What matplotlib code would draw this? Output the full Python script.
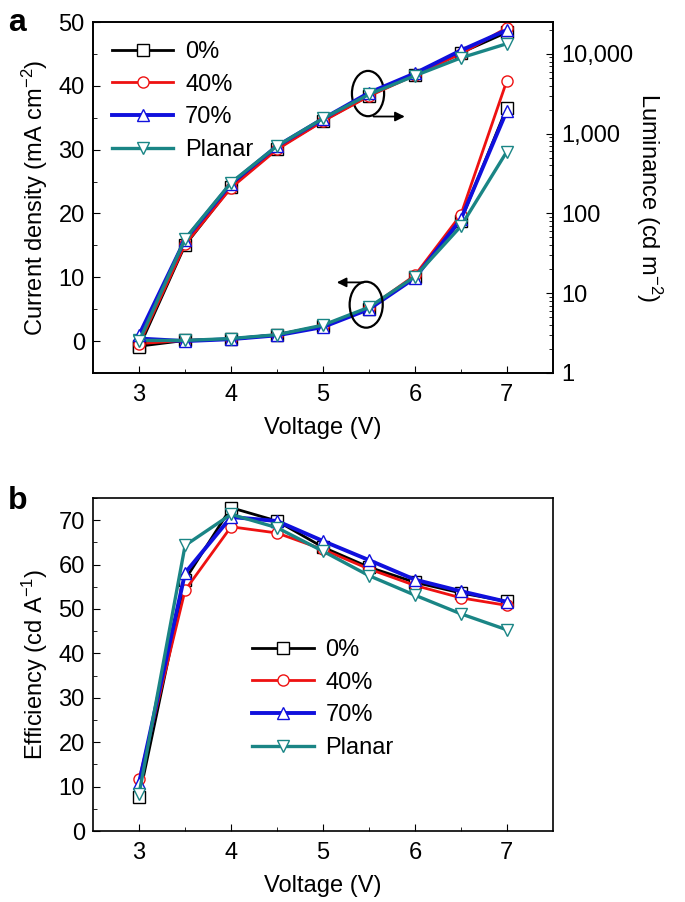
import numpy as np
import matplotlib
matplotlib.use("Agg")
import matplotlib.pyplot as plt
from matplotlib.patches import Ellipse
from matplotlib.ticker import FixedLocator, MultipleLocator, FuncFormatter, LogLocator

plt.rcParams['font.family'] = ['Liberation Sans', 'DejaVu Sans']
plt.rcParams['mathtext.fontset'] = 'custom'
plt.rcParams['mathtext.rm'] = 'Liberation Sans'
plt.rcParams['mathtext.it'] = 'Liberation Sans:italic'

voltage = [3.0, 3.5, 4.0, 4.5, 5.0, 5.5, 6.0, 6.5, 7.0]
labels = ["0%", "40%", "70%", "Planar"]
colors = ["#000000", "#ee1111", "#1010dd", "#1a8585"]
markers = ["s", "o", "^", "v"]
widths = [2.0, 2.0, 2.8, 2.4]

# current density (mA cm-2)
cur_0 = [-0.8, 0.1, 0.3, 1.0, 2.4, 5.1, 10.1, 18.9, 36.6]
cur_40 = [-0.4, 0.1, 0.3, 1.0, 2.4, 5.2, 10.3, 19.8, 40.8]
cur_70 = [0.4, 0.0, 0.3, 0.9, 2.2, 5.0, 9.9, 19.1, 36.1]
cur_pl = [0.1, 0.1, 0.4, 1.0, 2.5, 5.3, 10.1, 18.0, 29.7]

# luminance (cd m-2)
lum_0 = [2.1, 40, 215, 650, 1450, 3000, 5500, 10300, 18600]
lum_40 = [2.3, 41, 209, 633, 1433, 2950, 5400, 10000, 21200]
lum_70 = [3.0, 47, 236, 697, 1535, 3250, 5700, 11040, 19900]
lum_pl = [2.5, 48, 243, 700, 1550, 3100, 5320, 8900, 13400]

# efficiency (cd A-1)
eff_0 = [7.6, 56.6, 72.8, 69.8, 63.9, 59.4, 56.0, 53.6, 51.7]
eff_40 = [11.6, 54.2, 68.5, 67.1, 63.4, 59.0, 55.3, 52.5, 50.8]
eff_70 = [10.9, 58.1, 70.7, 69.8, 65.3, 61.0, 56.6, 54.0, 51.6]
eff_pl = [8.4, 64.3, 71.3, 68.3, 63.0, 57.5, 53.1, 48.9, 45.3]

cur = [cur_0, cur_40, cur_70, cur_pl]
lum = [lum_0, lum_40, lum_70, lum_pl]
eff = [eff_0, eff_40, eff_70, eff_pl]

fs = 17
fig = plt.figure(figsize=(6.85, 9.02), dpi=100)


def style_x(ax):
    ax.set_xlim(2.5, 7.5)
    ax.xaxis.set_major_locator(FixedLocator([3, 4, 5, 6, 7]))
    ax.xaxis.set_minor_locator(FixedLocator([3.5, 4.5, 5.5, 6.5]))
    ax.tick_params(axis="x", which="both", direction="in", top=False, labelsize=fs, pad=8)
    ax.tick_params(axis="x", which="major", length=5)
    ax.tick_params(axis="x", which="minor", length=3)
    ax.set_xlabel("Voltage (V)", fontsize=fs, labelpad=8)


# --- panel a ---
ax1 = fig.add_axes([0.136, 0.5865, 0.671, 0.389])
ax2 = ax1.twinx()
for i in range(4):
    ax1.plot(voltage, cur[i], color=colors[i], lw=widths[i], marker=markers[i],
             ms=8, mfc="white", mec=colors[i], mew=1.0, label=labels[i])
    ax2.plot(voltage, lum[i], color=colors[i], lw=widths[i], marker=markers[i],
             ms=8, mfc="white", mec=colors[i], mew=1.0)
ax1.set_ylim(-5, 50)
ax1.yaxis.set_major_locator(MultipleLocator(10))
ax1.yaxis.set_minor_locator(MultipleLocator(5))
ax1.tick_params(axis="y", which="both", direction="in", labelsize=fs, pad=6)
ax1.tick_params(axis="y", which="major", length=5)
ax1.tick_params(axis="y", which="minor", length=3)
ax1.set_ylabel("Current density (mA cm$^{-2}$)", fontsize=fs, labelpad=6)
style_x(ax1)

ax2.set_yscale("log")
ax2.set_ylim(1, 25000)
ax2.yaxis.set_major_locator(LogLocator(base=10, numticks=10))
ax2.yaxis.set_minor_locator(LogLocator(base=10, subs=np.arange(2, 10), numticks=10))
ax2.yaxis.set_major_formatter(FuncFormatter(lambda v, p: f"{int(round(v)):,}"))
ax2.tick_params(axis="y", which="both", direction="in", labelsize=fs, pad=6)
ax2.tick_params(axis="y", which="major", length=5)
ax2.tick_params(axis="y", which="minor", length=3)
ax2.set_ylabel("Luminance (cd m$^{-2}$)", fontsize=fs, rotation=-90, labelpad=22)

ax2.add_patch(Ellipse((5.49, 38.8), 0.35, 7.1, transform=ax1.transData,
                      fill=False, ec="black", lw=1.6))
ax2.annotate("", xy=(5.92, 35.2), xytext=(5.52, 35.2), xycoords=ax1.transData,
             textcoords=ax1.transData,
             arrowprops=dict(arrowstyle="-|>", color="black", lw=1.3, mutation_scale=14))
ax2.add_patch(Ellipse((5.47, 5.7), 0.36, 7.2, transform=ax1.transData,
                      fill=False, ec="black", lw=1.6))
ax2.annotate("", xy=(5.12, 9.2), xytext=(5.47, 9.2), xycoords=ax1.transData,
             textcoords=ax1.transData,
             arrowprops=dict(arrowstyle="-|>", color="black", lw=1.3, mutation_scale=14))

ax1.legend(loc="upper left", frameon=False, fontsize=fs, handlelength=2.6,
           labelspacing=0.45, handletextpad=0.5, borderaxespad=0.4,
           bbox_to_anchor=(0.0, 1.0))

# --- panel b ---
ax3 = fig.add_axes([0.136, 0.0787, 0.671, 0.3693])
for i in range(4):
    ax3.plot(voltage, eff[i], color=colors[i], lw=widths[i], marker=markers[i],
             ms=8, mfc="white", mec=colors[i], mew=1.0, label=labels[i])
ax3.set_ylim(0, 75)
ax3.yaxis.set_major_locator(MultipleLocator(10))
ax3.yaxis.set_minor_locator(MultipleLocator(5))
ax3.tick_params(axis="y", which="both", direction="in", right=False, labelsize=fs, pad=6)
ax3.tick_params(axis="y", which="major", length=5)
ax3.tick_params(axis="y", which="minor", length=3)
ax3.set_ylabel("Efficiency (cd A$^{-1}$)", fontsize=fs, labelpad=6)
style_x(ax3)
ax3.legend(loc="upper left", frameon=False, fontsize=fs, handlelength=2.6,
           labelspacing=0.45, handletextpad=0.5, bbox_to_anchor=(0.3, 0.64))

for ax in (ax1, ax2, ax3):
    for s in ax.spines.values():
        s.set_linewidth(1.2)

fig.text(0.012, 0.975, "a", fontsize=23, fontweight="bold", va="center")
fig.text(0.012, 0.445, "b", fontsize=23, fontweight="bold", va="center")

fig.savefig("out.png", dpi=100)
